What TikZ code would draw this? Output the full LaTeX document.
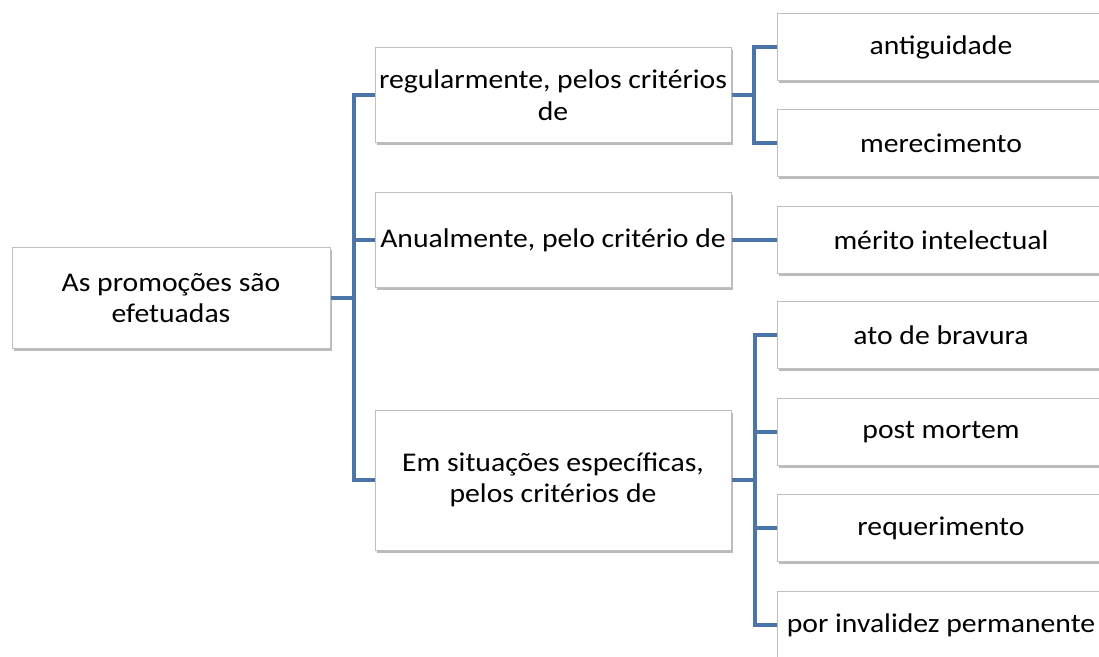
\documentclass[tikz,border=0pt]{standalone}
\usepackage{fontspec}
\setmainfont{Carlito}[FakeStretch=1.1]
\usetikzlibrary{shadows}
\definecolor{linkblue}{RGB}{74,116,170}
\definecolor{boxgray}{RGB}{191,191,191}
\tikzset{
  box/.style={draw=boxgray, line width=1pt, fill=white, align=center, inner sep=0pt,
    font=\fontsize{27}{31.5}\selectfont,
    drop shadow={shadow xshift=1.5pt, shadow yshift=-2.5pt, fill=black!45, opacity=0.6}},
  midbox/.style={box, minimum width=356pt, minimum height=95pt},
  leafbox/.style={box, minimum width=328pt, minimum height=67pt},
  link/.style={draw=linkblue, line width=4pt}
}

\begin{document}
\begin{tikzpicture}[x=1pt, y=-1pt]
			%%%%% START %%%%%
			\useasboundingbox (0, 0) rectangle (1099, 656);
			\clip (0, 0) rectangle (1099, 656);
			
			\node[box, minimum width=318pt, minimum height=101pt] (root) at (171, 298) {As promoções são\\efetuadas};
			
			\node[midbox] (regular) at (553, 95) {regularmente, pelos critérios\\de};
			\node[midbox] (anual) at (553, 240) {Anualmente, pelo critério de};
			\node[midbox, minimum height=140pt] (especif) at (553, 480) {Em situações específicas,\\pelos critérios de};
			
			\node[leafbox] (antig) at (941, 47) {antiguidade};
			\node[leafbox] (merec) at (941, 143) {merecimento};
			\node[leafbox] (merito) at (941, 240) {mérito intelectual};
			\node[leafbox] (bravura) at (941, 335) {ato de bravura};
			\node[leafbox] (mortem) at (941, 432) {post mortem};
			\node[leafbox] (requer) at (941, 528) {requerimento};
			\node[leafbox] (invalid) at (941, 625) {por invalidez permanente};
			
			\draw[link] (root.east) -- ++(23, 0) |- (regular.west);
			\draw[link] (root.east) -- ++(23, 0) |- (anual.west);
			\draw[link] (root.east) -- ++(23, 0) |- (especif.west);
			
			\draw[link] (regular.east) -- ++(22, 0) |- (antig.west);
			\draw[link] (regular.east) -- ++(22, 0) |- (merec.west);
			
			\draw[link] (anual.east) -- (merito.west);
			
			\draw[link] (especif.east) -- ++(23, 0) |- (bravura.west);
			\draw[link] (especif.east) -- ++(23, 0) |- (mortem.west);
			\draw[link] (especif.east) -- ++(23, 0) |- (requer.west);
			\draw[link] (especif.east) -- ++(23, 0) |- (invalid.west);
			
			%%%%% END %%%%%
\end{tikzpicture}
\end{document}
